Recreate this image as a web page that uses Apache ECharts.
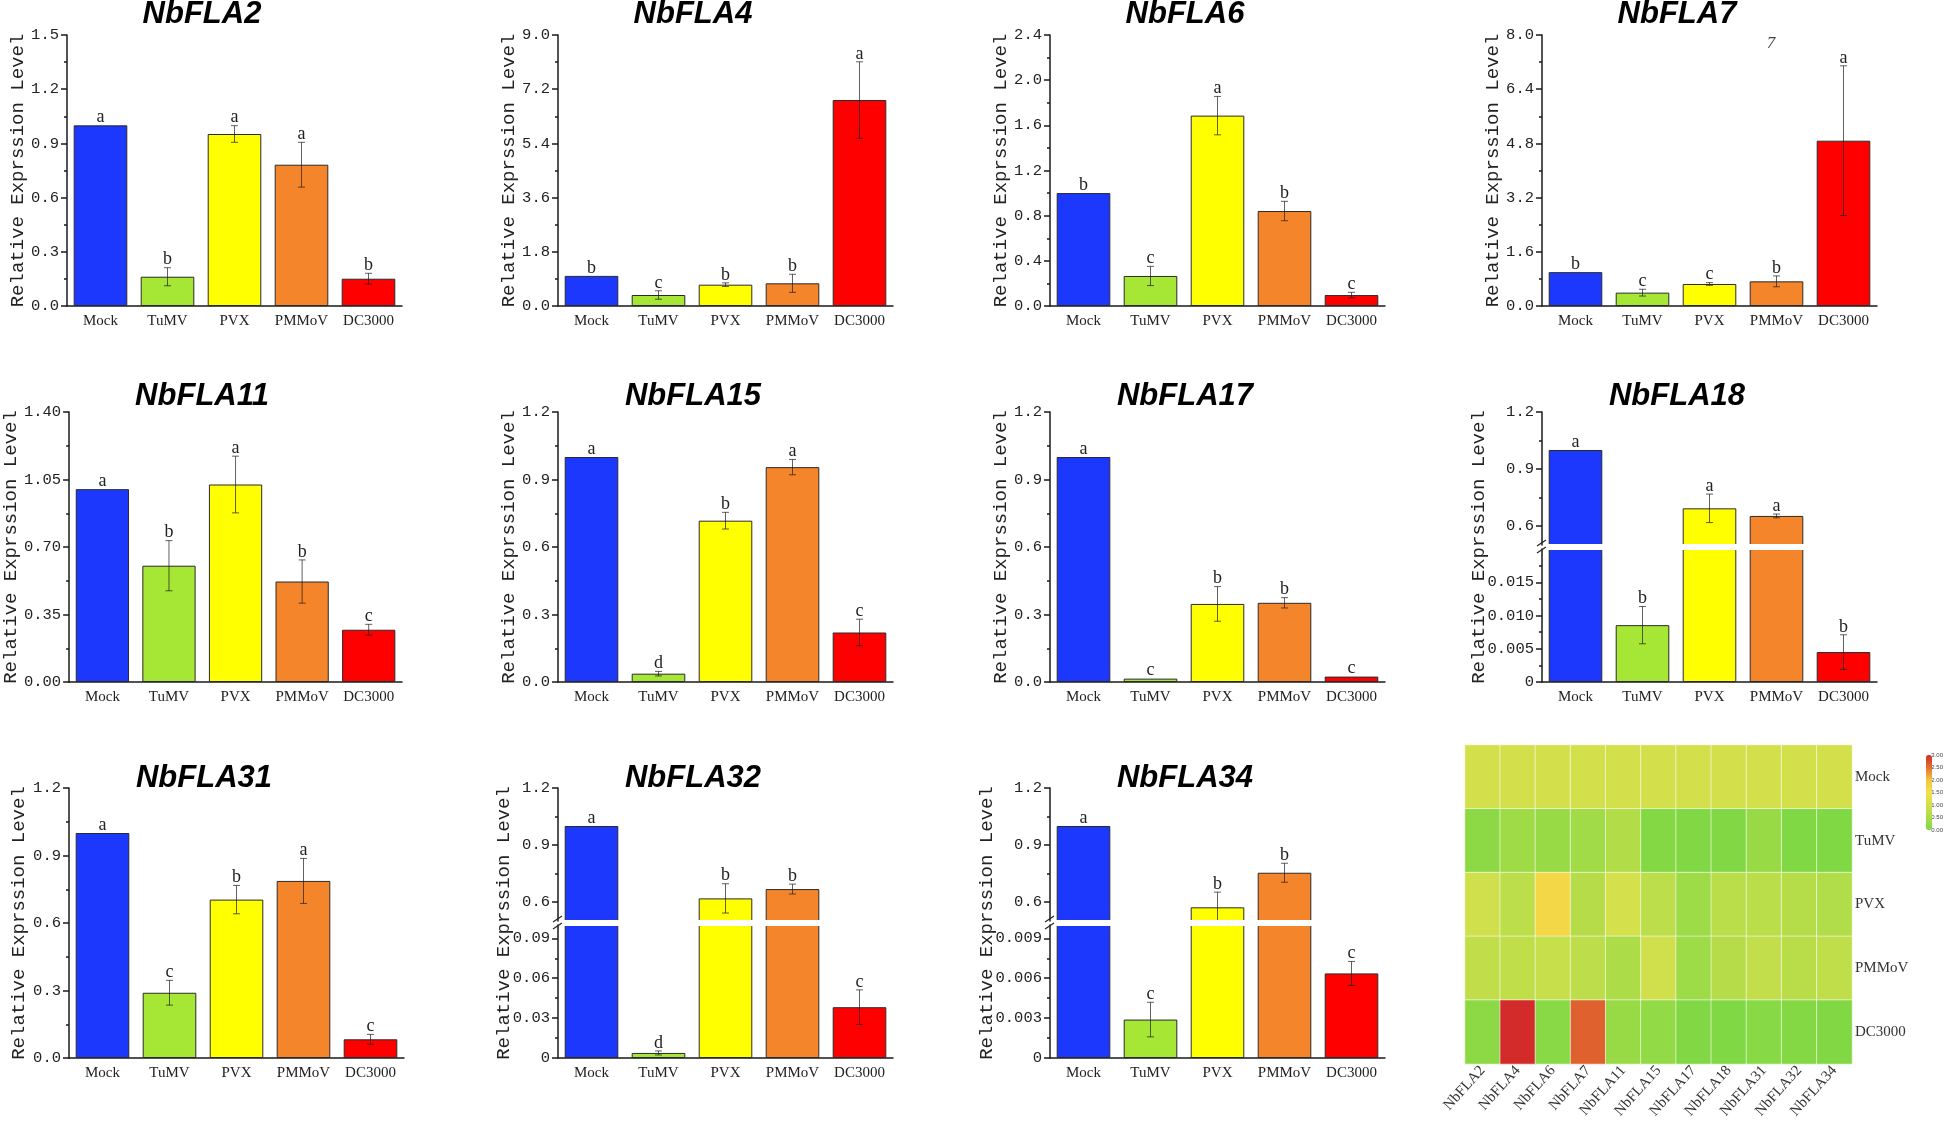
<!DOCTYPE html>
<html>
<head>
<meta charset="utf-8">
<title>NbFLA relative expression</title>
<script src="https://cdn.jsdelivr.net/npm/echarts@6.0.0/dist/echarts.min.js"></script>
<style>
	html, body { margin: 0; padding: 0; background: #fff; }
	#myflachart { width: 1946px; height: 1121px; }
</style>
</head>
<body>
<div id="myflachart"></div>
<script>
var categories = ['Mock', 'TuMV', 'PVX', 'PMMoV', 'DC3000'];
var genes = ['NbFLA2', 'NbFLA4', 'NbFLA6', 'NbFLA7', 'NbFLA11', 'NbFLA15', 'NbFLA17', 'NbFLA18', 'NbFLA31', 'NbFLA32', 'NbFLA34'];
var barColors = ['#1b38fc', '#a6e634', '#ffff00', '#f5852b', '#ff0000'];

var fla2Mean = [1.0, 0.162, 0.952, 0.782, 0.151];
var fla2Err = [0, 0.05, 0.046, 0.124, 0.03];
var fla2Sig = ['a', 'b', 'a', 'a', 'b'];
var fla2Ticks = ['0.0', '0.3', '0.6', '0.9', '1.2', '1.5'];

var fla4Mean = [1.0, 0.365, 0.708, 0.753, 6.84];
var fla4Err = [0, 0.14, 0.06, 0.3, 1.27];
var fla4Sig = ['b', 'c', 'b', 'b', 'a'];
var fla4Ticks = ['0.0', '1.8', '3.6', '5.4', '7.2', '9.0'];

var fla6Mean = [1.0, 0.266, 1.686, 0.841, 0.097];
var fla6Err = [0, 0.085, 0.17, 0.086, 0.024];
var fla6Sig = ['b', 'c', 'a', 'b', 'c'];
var fla6Ticks = ['0.0', '0.4', '0.8', '1.2', '1.6', '2.0', '2.4'];

var fla7Mean = [1.0, 0.394, 0.65, 0.728, 4.88];
var fla7Err = [0, 0.1, 0.04, 0.16, 2.21];
var fla7Sig = ['b', 'c', 'c', 'b', 'a'];
var fla7Ticks = ['0.0', '1.6', '3.2', '4.8', '6.4', '8.0'];

var fla11Mean = [1.0, 0.603, 1.024, 0.521, 0.271];
var fla11Err = [0, 0.13, 0.147, 0.112, 0.028];
var fla11Sig = ['a', 'b', 'a', 'b', 'c'];
var fla11Ticks = ['0.00', '0.35', '0.70', '1.05', '1.40'];

var fla15Mean = [1.0, 0.037, 0.717, 0.955, 0.22];
var fla15Err = [0, 0.01, 0.037, 0.034, 0.059];
var fla15Sig = ['a', 'd', 'b', 'a', 'c'];
var fla15Ticks = ['0.0', '0.3', '0.6', '0.9', '1.2'];

var fla17Mean = [1.0, 0.015, 0.347, 0.352, 0.024];
var fla17Err = [0, 0, 0.077, 0.023, 0];
var fla17Sig = ['a', 'c', 'b', 'b', 'c'];
var fla17Ticks = ['0.0', '0.3', '0.6', '0.9', '1.2'];

var fla18Mean = [1.0, 0.00855, 0.693, 0.653, 0.0045];
var fla18Err = [0, 0.0028, 0.075, 0.01, 0.0026];
var fla18Sig = ['a', 'b', 'a', 'a', 'b'];
var fla18LowTicks = ['0', '0.005', '0.010', '0.015'];
var fla18LowMax = 0.02;

var fla31Mean = [1.0, 0.29, 0.704, 0.787, 0.083];
var fla31Err = [0, 0.055, 0.063, 0.1, 0.022];
var fla31Sig = ['a', 'c', 'b', 'a', 'c'];
var fla31Ticks = ['0.0', '0.3', '0.6', '0.9', '1.2'];

var fla32Mean = [1.0, 0.0038, 0.619, 0.668, 0.0382];
var fla32Err = [0, 0.0015, 0.077, 0.026, 0.013];
var fla32Sig = ['a', 'd', 'b', 'b', 'c'];
var fla32LowTicks = ['0', '0.03', '0.06', '0.09'];
var fla32LowMax = 0.1;

var fla34Mean = [1.0, 0.00289, 0.572, 0.754, 0.00636];
var fla34Err = [0, 0.0013, 0.08, 0.05, 0.0009];
var fla34Sig = ['a', 'c', 'b', 'b', 'c'];
var fla34LowTicks = ['0', '0.003', '0.006', '0.009'];
var fla34LowMax = 0.01;

// upper part of the broken axes
var brokenUpperTicks = ['0.6', '0.9', '1.2'];
var brokenUpperMin = 0.5;

// heatmap (rows = treatments, columns = genes)
var heatMock = [1.0, 1.0, 1.0, 1.0, 1.0, 1.0, 1.0, 1.0, 1.0, 1.0, 1.0];
var heatTuMV = [0.16, 0.36, 0.27, 0.39, 0.6, 0.04, 0.015, 0.009, 0.29, 0.004, 0.003];
var heatPVX = [0.95, 0.71, 1.69, 0.65, 1.02, 0.72, 0.35, 0.69, 0.70, 0.62, 0.57];
var heatPMMoV = [0.78, 0.75, 0.84, 0.73, 0.52, 0.96, 0.35, 0.65, 0.79, 0.67, 0.75];
var heatDC3000 = [0.15, 3.0, 0.1, 2.6, 0.27, 0.22, 0.024, 0.0045, 0.08, 0.038, 0.0064];
var heatColors = ['#80d844', '#aadc48', '#d3e04c', '#f3e14a', '#f2c642', '#e2702f', '#d32b29'];

var plotWidth = 335;
var colLeft = [67, 558, 1050, 1542];
var rowTop = [35, 412, 788];
var rowHeight = [271, 270, 270];
var titleTop = [-1, 381, 763];
var nameGaps = [38, 37, 37, 37, 46, 37, 37, 54, 41, 45, 54];

var monoFont = '"Liberation Mono", monospace';
var serifFont = '"Liberation Serif", serif';
var axisLineStyle = { color: '#1a1a1a', width: 1.5 };

window.onload = function() {
	loadFlaCharts();
};

function labelOf(labels, values, v) {
	var best = 0;
	for (var k = 1; k < values.length; k++) {
		if (Math.abs(values[k] - v) < Math.abs(values[best] - v)) best = k;
	}
	return labels[best];
}

function makeErrRender(sig) {
	return function(params, api) {
		var i = api.value(0), v = api.value(1), e = api.value(2);
		var hi = api.coord([i, v + e]);
		var lo = api.coord([i, v - e]);
		var st = { stroke: 'rgba(30,30,30,0.7)', lineWidth: 1 };
		var kids = [];
		if (e > 0) {
			kids.push({ type: 'line', shape: { x1: hi[0], y1: hi[1], x2: lo[0], y2: lo[1] }, style: st });
			kids.push({ type: 'line', shape: { x1: hi[0] - 3.5, y1: hi[1], x2: hi[0] + 3.5, y2: hi[1] }, style: st });
			kids.push({ type: 'line', shape: { x1: lo[0] - 3.5, y1: lo[1], x2: lo[0] + 3.5, y2: lo[1] }, style: st });
		}
		kids.push({
			type: 'text',
			style: {
				text: sig[i], x: hi[0], y: hi[1] + 1,
				align: 'center', verticalAlign: 'bottom',
				fill: '#222', font: '18px "Liberation Serif"'
			}
		});
		return { type: 'group', children: kids };
	};
}

function addPlot(option, o) {
	var g = option.grid.length;
	option.grid.push({ left: o.left, top: o.top, width: plotWidth, height: o.height });

	var xi = option.xAxis.length;
	option.xAxis.push({
		type: 'category', gridIndex: g, data: categories, show: o.showX, position: 'bottom',
		axisLine: { lineStyle: axisLineStyle },
		axisTick: { alignWithLabel: true, length: 5, lineStyle: axisLineStyle },
		axisLabel: { interval: 0, margin: 8, color: '#222', fontFamily: serifFont, fontSize: 15 }
	});
	option.xAxis.push({
		type: 'category', gridIndex: g, data: categories, show: o.showX, position: 'bottom',
		axisLine: { show: false },
		axisTick: { length: 3, interval: 0, lineStyle: axisLineStyle },
		axisLabel: { show: false }
	});

	var tickValues = o.ticks.map(Number);
	var step = tickValues[1] - tickValues[0];
	var minor = [];
	tickValues.forEach(function(t) {
		if (t + step / 2 <= o.max + 1e-9) minor.push(t + step / 2);
	});
	if (tickValues[0] - step / 2 >= o.min - 1e-9) minor.push(tickValues[0] - step / 2);

	var yi = option.yAxis.length;
	option.yAxis.push({
		type: 'value', gridIndex: g, min: o.min, max: o.max, position: 'left',
		splitLine: { show: false },
		axisLine: { show: true, lineStyle: axisLineStyle },
		axisTick: { show: true, length: 6, customValues: tickValues, lineStyle: axisLineStyle },
		axisLabel: {
			customValues: tickValues, margin: 8, color: '#222', fontFamily: monoFont, fontSize: 15.5,
			formatter: function(v) { return labelOf(o.ticks, tickValues, v); }
		},
		name: o.name || '', nameLocation: 'middle', nameGap: o.nameGap || 0,
		nameTextStyle: { fontFamily: monoFont, fontSize: 19, color: '#222' }
	});
	option.yAxis.push({
		type: 'value', gridIndex: g, min: o.min, max: o.max, position: 'left', offset: 0,
		splitLine: { show: false },
		axisLine: { show: false },
		axisTick: { show: true, length: 3, customValues: minor, lineStyle: axisLineStyle },
		axisLabel: { show: false }
	});

	var barData = o.mean.map(function(v, i) {
		return o.keepBar(v) ? { value: v, itemStyle: { color: barColors[i] } } : '-';
	});
	option.series.push({
		type: 'bar', xAxisIndex: xi, yAxisIndex: yi, data: barData,
		barWidth: '80%', clip: true,
		itemStyle: { borderColor: '#2a2a2a', borderWidth: 1 },
		silent: true
	});

	var errData = [];
	o.mean.forEach(function(v, i) {
		if (o.keepErr(v)) errData.push([i, v, o.err[i]]);
	});
	option.series.push({
		type: 'custom', xAxisIndex: xi, yAxisIndex: yi, data: errData,
		renderItem: makeErrRender(o.sig), z: 5, silent: true
	});
}

function loadFlaCharts() {
	var mychart = echarts.init(document.getElementById('myflachart'));
	var option = {
		animation: false,
		backgroundColor: '#fff',
		grid: [], xAxis: [], yAxis: [], series: [], graphic: []
	};

	var panels = [
		{ mean: fla2Mean, err: fla2Err, sig: fla2Sig, ticks: fla2Ticks },
		{ mean: fla4Mean, err: fla4Err, sig: fla4Sig, ticks: fla4Ticks },
		{ mean: fla6Mean, err: fla6Err, sig: fla6Sig, ticks: fla6Ticks },
		{ mean: fla7Mean, err: fla7Err, sig: fla7Sig, ticks: fla7Ticks },
		{ mean: fla11Mean, err: fla11Err, sig: fla11Sig, ticks: fla11Ticks },
		{ mean: fla15Mean, err: fla15Err, sig: fla15Sig, ticks: fla15Ticks },
		{ mean: fla17Mean, err: fla17Err, sig: fla17Sig, ticks: fla17Ticks },
		{ mean: fla18Mean, err: fla18Err, sig: fla18Sig, lowTicks: fla18LowTicks, lowMax: fla18LowMax },
		{ mean: fla31Mean, err: fla31Err, sig: fla31Sig, ticks: fla31Ticks },
		{ mean: fla32Mean, err: fla32Err, sig: fla32Sig, lowTicks: fla32LowTicks, lowMax: fla32LowMax },
		{ mean: fla34Mean, err: fla34Err, sig: fla34Sig, lowTicks: fla34LowTicks, lowMax: fla34LowMax }
	];

	panels.forEach(function(p, idx) {
		var col = idx % 4, row = Math.floor(idx / 4);
		var left = colLeft[col] + (row === 2 && col === 0 ? 2 : 0);
		var top = rowTop[row], h = rowHeight[row];
		var yName = 'Relative Exprssion Level';

		if (!p.lowTicks) {
			addPlot(option, {
				left: left, top: top, height: h, min: 0, max: Number(p.ticks[p.ticks.length - 1]),
				ticks: p.ticks, mean: p.mean, err: p.err, sig: p.sig, showX: true,
				name: yName, nameGap: nameGaps[idx],
				keepBar: function() { return true; },
				keepErr: function() { return true; }
			});
		} else {
			var gap = 4;
			var half = (h - gap) / 2;
			var upMax = Number(brokenUpperTicks[brokenUpperTicks.length - 1]);
			addPlot(option, {
				left: left, top: top, height: half, min: brokenUpperMin, max: upMax,
				ticks: brokenUpperTicks, mean: p.mean, err: p.err, sig: p.sig, showX: false,
				keepBar: function(v) { return v >= brokenUpperMin; },
				keepErr: function(v) { return v >= brokenUpperMin; }
			});
			addPlot(option, {
				left: left, top: top + half + gap, height: half, min: 0, max: p.lowMax,
				ticks: p.lowTicks, mean: p.mean, err: p.err, sig: p.sig, showX: true,
				keepBar: function() { return true; },
				keepErr: function(v) { return v < p.lowMax; }
			});
			// frame axis only for the name
			var fg = option.grid.length;
			option.grid.push({ left: left, top: top, width: plotWidth, height: h });
			option.xAxis.push({ type: 'value', gridIndex: fg, show: false });
			option.yAxis.push({
				type: 'value', gridIndex: fg, min: 0, max: 1, position: 'left',
				axisLine: { show: false }, axisTick: { show: false },
				axisLabel: { show: false }, splitLine: { show: false },
				name: yName, nameLocation: 'middle', nameGap: nameGaps[idx],
				nameTextStyle: { fontFamily: monoFont, fontSize: 19, color: '#222' }
			});
			// white band across the bars and the break marks
			var yb = top + half;
			option.graphic.push({
				type: 'rect', z: 100,
				shape: { x: left + 1, y: yb - 1, width: plotWidth, height: gap + 2 },
				style: { fill: '#fff' }
			});
			option.graphic.push({
				type: 'line', z: 101,
				shape: { x1: left - 5, y1: yb + 1, x2: left + 4, y2: yb - 5 },
				style: { stroke: '#222', lineWidth: 1.2 }
			});
			option.graphic.push({
				type: 'line', z: 101,
				shape: { x1: left - 5, y1: yb + gap + 4, x2: left + 4, y2: yb + gap - 2 },
				style: { stroke: '#222', lineWidth: 1.2 }
			});
		}

		option.graphic.push({
			type: 'text', z: 100, x: left + 135, y: titleTop[row],
			style: {
				text: genes[idx], fill: '#000',
				font: 'italic bold 31px "Liberation Sans"',
				align: 'center', verticalAlign: 'top'
			}
		});
	});

	// stray glyph visible in the NbFLA7 panel
	option.graphic.push({
		type: 'text', z: 100, x: 1771, y: 35,
		style: { text: '7', fill: '#444', font: 'italic 17px "Liberation Serif"', align: 'center', verticalAlign: 'top' }
	});

	// heatmap
	var treatRows = [heatMock, heatTuMV, heatPVX, heatPMMoV, heatDC3000];
	var heatData = [];
	treatRows.forEach(function(rowVals, r) {
		rowVals.forEach(function(v, c) { heatData.push([c, r, v]); });
	});
	var hg = option.grid.length;
	option.grid.push({ left: 1465, top: 745, width: 387, height: 322 });
	var hx = option.xAxis.length;
	option.xAxis.push({
		type: 'category', gridIndex: hg, data: genes, position: 'bottom',
		axisLine: { show: false }, axisTick: { show: false }, splitLine: { show: false },
		axisLabel: { rotate: 48, margin: 4, interval: 0, color: '#333', fontFamily: serifFont, fontSize: 15 }
	});
	var hy = option.yAxis.length;
	option.yAxis.push({
		type: 'category', gridIndex: hg, data: categories, inverse: true, position: 'right',
		axisLine: { show: false }, axisTick: { show: false }, splitLine: { show: false },
		axisLabel: { margin: 3, color: '#333', fontFamily: serifFont, fontSize: 15 }
	});
	var heatIndex = option.series.length;
	option.series.push({
		type: 'heatmap', xAxisIndex: hx, yAxisIndex: hy, data: heatData,
		itemStyle: { borderColor: 'rgba(255,255,255,0.6)', borderWidth: 1 },
		silent: true
	});
	option.visualMap = [{
		type: 'continuous', min: 0, max: 3, seriesIndex: heatIndex, dimension: 2,
		calculable: false, show: true, orient: 'vertical',
		left: 1926, top: 755, itemWidth: 6, itemHeight: 75, padding: 0,
		inRange: { color: heatColors }
	}];

	// colour bar tick labels
	var cg = option.grid.length;
	option.grid.push({ left: 1926, top: 755, width: 6, height: 75 });
	option.xAxis.push({ type: 'value', gridIndex: cg, show: false });
	option.yAxis.push({
		type: 'value', gridIndex: cg, min: 0, max: 3, interval: 0.5, position: 'right',
		axisLine: { show: false }, axisTick: { show: false }, splitLine: { show: false },
		axisLabel: { margin: 2, fontSize: 6, color: '#444', fontFamily: '"Liberation Sans"',
			formatter: function(v) { return v.toFixed(2); } }
	});

	mychart.setOption(option);
}
</script>
</body>
</html>
